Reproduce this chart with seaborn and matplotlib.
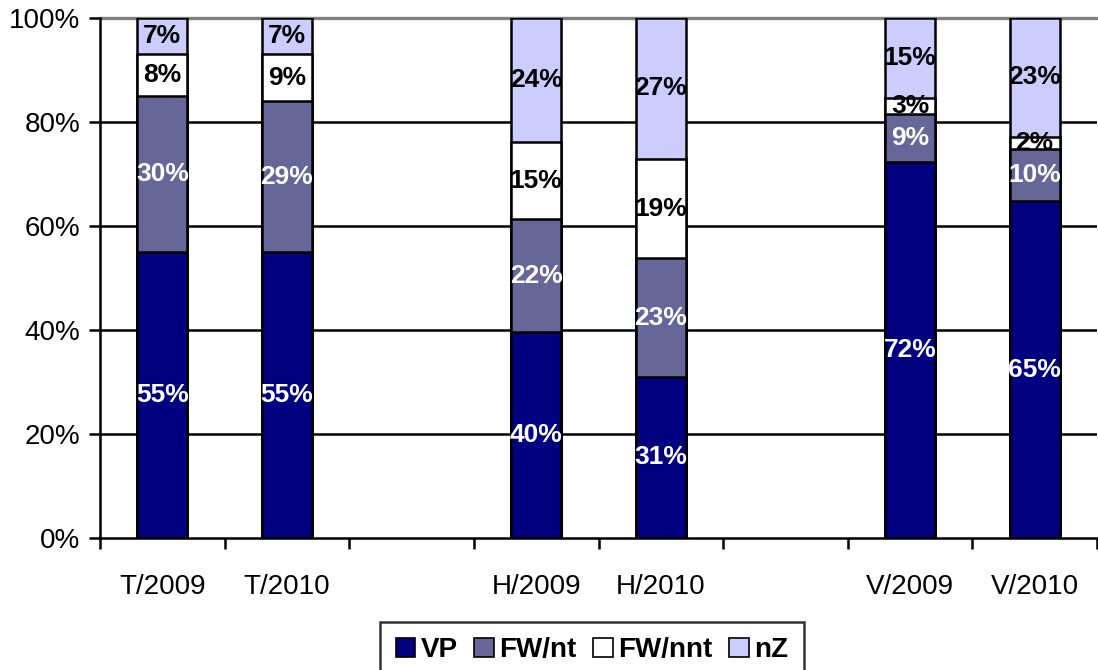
import matplotlib
matplotlib.use("Agg")
import matplotlib.pyplot as plt
import seaborn as sns
import pandas as pd
import numpy as np
from matplotlib.patches import Patch

categories = ["T/2009", "T/2010", "H/2009", "H/2010", "V/2009", "V/2010"]
slots = ["T/2009", "T/2010", "gap1", "H/2009", "H/2010", "gap2", "V/2009", "V/2010"]
series = ["VP", "FW/nt", "FW/nnt", "nZ"]
vp = [55, 55, 39.6, 31.0, 72.4, 64.8]
fw_nt = [30, 29, 21.7, 22.8, 9.2, 10.1]
fw_nnt = [8, 9, 14.9, 19.1, 3.1, 2.3]
nz = [7, 7, 23.8, 27.1, 15.3, 22.8]
colors = ["#000080", "#666699", "#FFFFFF", "#CCCCFF"]
label_colors = ["white", "white", "black", "black"]
yticks = [0, 20, 40, 60, 80, 100]

sns.set_theme(style="white")
plt.rcParams["font.family"] = ["Liberation Sans", "DejaVu Sans"]
plt.rcParams["text.color"] = "black"
plt.rcParams["xtick.color"] = "black"
plt.rcParams["ytick.color"] = "black"
plt.rcParams["axes.labelcolor"] = "black"

fig = plt.figure(figsize=(10.98, 6.70), dpi=100)
ax = fig.add_axes([100 / 1098, 1 - 538 / 670, 997 / 1098, 520 / 670])

vals = np.array([vp, fw_nt, fw_nnt, nz])
cum = np.cumsum(vals, axis=0)

# draw from the top-most cumulative down so that stacked appearance results
for i in range(len(series) - 1, -1, -1):
    df = pd.DataFrame({"cat": categories, "val": cum[i]})
    sns.barplot(data=df, x="cat", y="val", order=slots, color=colors[i],
                saturation=1, width=0.4, edgecolor="black", linewidth=1.8,
                ax=ax, zorder=3)

# labels
for i in range(len(series)):
    for j, cat in enumerate(categories):
        x = slots.index(cat)
        bottom = cum[i][j] - vals[i][j]
        y = bottom + vals[i][j] / 2
        ax.text(x, y, f"{round(vals[i][j]):d}%", ha="center", va="center",
                fontsize=19, fontweight="bold", color=label_colors[i], zorder=5)

ax.set_xlim(-0.5, len(slots) - 0.5)
ax.set_ylim(0, 100)
ax.set_xlabel("")
ax.set_ylabel("")

# gridlines
for t in yticks[1:-1]:
    ax.axhline(t, color="black", lw=1.8, zorder=1)
ax.axhline(100, color="#808080", lw=2.4, zorder=1, clip_on=False)

ax.set_yticks(yticks)
ax.set_yticklabels([f"{t}%" for t in yticks], fontsize=20, color="black")
ax.set_xticks([slots.index(c) for c in categories])
ax.set_xticklabels(categories, fontsize=20, color="black")
ax.tick_params(axis="x", which="major", length=0, pad=26)
ax.set_xticks(np.arange(-0.5, len(slots) + 0.5, 1), minor=True)
ax.tick_params(axis="x", which="minor", length=8, width=1.8, color="black", direction="out", bottom=True)
ax.tick_params(axis="y", which="major", length=8, width=1.8, color="black", direction="out", left=True, pad=6)

for s in ["top", "right"]:
    ax.spines[s].set_visible(False)
for s in ["left", "bottom"]:
    ax.spines[s].set_color("black")
    ax.spines[s].set_linewidth(1.8)
    ax.spines[s].set_zorder(4)

handles = [Patch(facecolor=c, edgecolor="black", linewidth=1.2, label=s) for c, s in zip(colors, series)]
leg = fig.legend(handles=handles, loc="upper center", bbox_to_anchor=(592 / 1098, 1 - 622 / 670),
                 ncol=4, frameon=True, fancybox=False, handlelength=0.7, handleheight=0.7,
                 handletextpad=0.2, columnspacing=0.6, borderpad=0.55, borderaxespad=0,
                 prop={"size": 20, "weight": "bold"})
leg.get_frame().set_edgecolor("black")
leg.get_frame().set_linewidth(1.8)
for t in leg.get_texts():
    t.set_color("black")

fig.savefig("out.png", dpi=100)
